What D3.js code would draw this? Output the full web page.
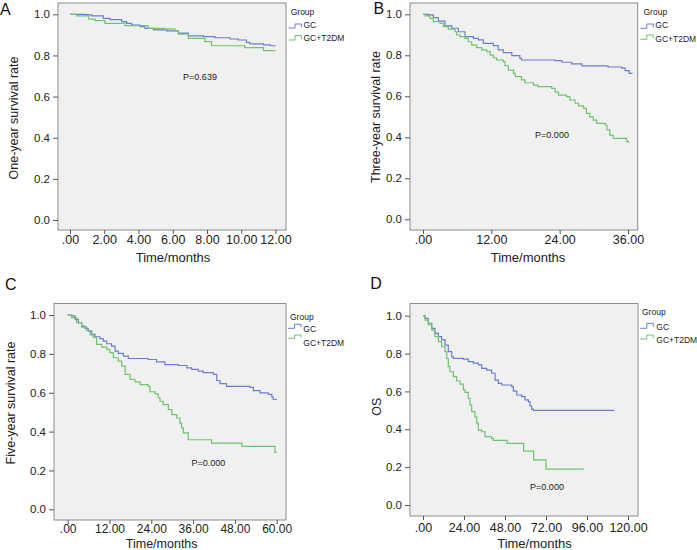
<!DOCTYPE html>
<html><head><meta charset="utf-8">
<script src="https://cdn.jsdelivr.net/npm/d3@7"></script>
<style>body{margin:0;background:#fff} svg{display:block;font-family:"Liberation Sans",Arial,Helvetica,sans-serif}</style>
</head><body><svg id="c" width="697" height="550"></svg>
<script>
// ---------- data ----------
const groups = ["GC", "GC+T2DM"];
const panelLetters = ["A", "B", "C", "D"];
const yTitles = ["One-year survival rate", "Three-year survival rate", "Five-year survival rate", "OS"];
const xTitleText = "Time/months";
const legendTitle = "Group";
const pValues = ["P=0.639", "P=0.000", "P=0.000", "P=0.000"];
const yTicks = [0, 0.2, 0.4, 0.6, 0.8, 1.0];
const xTicksA = [0, 2, 4, 6, 8, 10, 12];
const xTicksB = [0, 12, 24, 36];
const xTicksC = [0, 12, 24, 36, 48, 60];
const xTicksD = [0, 24, 48, 72, 96, 120];

// [time in months, survival rate]
const gcA = [[0,1],[0.97,0.997],[1.27,0.992],[1.95,0.98],[2.34,0.974],[3.02,0.964],[3.31,0.956],[3.6,0.948],[4.09,0.94],[4.38,0.932],[4.87,0.924],[5.65,0.919],[6.33,0.908],[6.91,0.895],[7.79,0.891],[8.47,0.886],[9.34,0.88],[9.83,0.875],[10.3,0.864],[10.5,0.856],[11.3,0.851],[11.7,0.847],[12,0.847]];
const t2dmA = [[0,1],[0.39,0.992],[1.1,0.977],[1.46,0.969],[2.04,0.956],[3.21,0.945],[4.57,0.932],[5.5,0.929],[6.13,0.919],[6.33,0.904],[6.91,0.883],[7.88,0.867],[8.27,0.847],[10.2,0.838],[11.3,0.823],[12,0.823]];

const gcB = [[0,1],[0.94,0.997],[1.82,0.984],[2.69,0.967],[3.86,0.944],[5.03,0.932],[6.2,0.915],[7.37,0.891],[8.84,0.883],[9.72,0.875],[10.6,0.858],[12.35,0.847],[13.2,0.826],[14.1,0.813],[15.6,0.798],[17.0,0.785],[17.3,0.777],[23.2,0.774],[24.4,0.766],[26.1,0.758],[27.9,0.748],[32.5,0.743],[34.9,0.737],[35.5,0.725],[36.2,0.712],[36.8,0.712]];
const t2dmB = [[0,1],[0.35,0.992],[1.23,0.98],[1.82,0.964],[2.99,0.956],[3.57,0.94],[4.45,0.928],[5.62,0.915],[5.91,0.899],[6.5,0.891],[7.37,0.883],[7.96,0.866],[8.55,0.85],[9.43,0.837],[10.3,0.826],[11.2,0.818],[11.8,0.801],[12.35,0.788],[12.9,0.777],[14.1,0.769],[14.4,0.749],[15.0,0.728],[15.9,0.712],[16.2,0.696],[17.3,0.68],[17.9,0.666],[19.4,0.655],[20.2,0.647],[22.6,0.639],[23.2,0.62],[23.8,0.606],[25.2,0.598],[25.8,0.582],[26.7,0.566],[27.3,0.553],[28.2,0.541],[28.7,0.517],[29.3,0.5],[29.9,0.484],[30.5,0.468],[32.0,0.46],[32.3,0.436],[32.8,0.411],[33.4,0.395],[35.8,0.379],[36.1,0.374]];

const gcC = [[0,1],[1.15,0.995],[2.1,0.978],[3.04,0.961],[4.0,0.943],[4.97,0.931],[5.9,0.917],[6.9,0.9],[7.84,0.888],[9.27,0.878],[10.2,0.866],[11.2,0.852],[12.6,0.84],[13.6,0.814],[14.5,0.802],[16.0,0.788],[17.4,0.776],[23.1,0.771],[25.5,0.759],[27.9,0.745],[31.8,0.74],[34.2,0.728],[35.6,0.72],[37.5,0.711],[38.9,0.703],[41.8,0.694],[42.8,0.663],[43.7,0.647],[45.6,0.633],[52.3,0.628],[53.3,0.611],[55.2,0.599],[57.6,0.591],[58.6,0.577],[59.0,0.565],[60,0.565]];
const t2dmC = [[0,1],[1.15,0.986],[2.58,0.961],[4.0,0.938],[5.45,0.921],[6.4,0.897],[7.35,0.883],[8.3,0.849],[9.76,0.835],[11.2,0.823],[12.1,0.806],[13.1,0.78],[14.5,0.763],[15.5,0.737],[16.5,0.694],[17.9,0.668],[19.3,0.656],[20.8,0.642],[23.1,0.633],[23.6,0.605],[25.1,0.594],[26.0,0.574],[26.5,0.556],[27.4,0.539],[28.9,0.513],[29.9,0.487],[31.3,0.47],[32.2,0.444],[32.7,0.419],[33.2,0.393],[34.6,0.358],[41.3,0.341],[50.0,0.324],[59.5,0.293],[60,0.293]];

const gcD = [[0,1],[1.17,0.986],[3.1,0.96],[5.1,0.933],[7.0,0.907],[9.0,0.889],[10.9,0.872],[12.9,0.845],[14.8,0.81],[16.8,0.783],[17.8,0.775],[23.6,0.771],[26.5,0.757],[29.5,0.749],[32.4,0.74],[34.4,0.722],[37.3,0.713],[40.2,0.696],[42.2,0.66],[44.1,0.643],[46.1,0.634],[51.9,0.625],[52.9,0.602],[54.9,0.581],[57.8,0.572],[59.7,0.555],[61.7,0.546],[62.6,0.523],[63.6,0.507],[64.6,0.5],[112,0.5]];
const t2dmD = [[0,1],[1.17,0.977],[3.1,0.951],[5.1,0.924],[7.0,0.889],[9.0,0.863],[10.9,0.836],[12.9,0.81],[13.9,0.775],[14.8,0.731],[15.8,0.704],[17.8,0.678],[19.7,0.655],[21.7,0.639],[23.6,0.608],[24.6,0.595],[26.5,0.564],[27.5,0.528],[28.5,0.493],[30.4,0.466],[31.4,0.432],[32.4,0.396],[34.4,0.387],[36.3,0.361],[40.2,0.352],[41.2,0.341],[49.2,0.326],[58.9,0.285],[64.8,0.238],[72.0,0.19],[94.1,0.19]];

// ---------- layout / style ----------
const colors = {GC: "#6c7dd0", "GC+T2DM": "#6dc56d"};
const panels = [
  {series:[gcA,t2dmA], xTicks:xTicksA, xMax:12, box:[58,3,286,230], xr:[70,275.5], yr:[220,14.3],
   letter:[0,15], xTickY:240, tickFs:12.5, xTitle:[173,257], xTitleFs:13, yTitle:[14,118], p:[200,77],
   leg:{gx:290.7, gy:12.3, ix:288.5, tx:303.5, items:[{lo:28,hi:24,ty:25.5},{lo:40,hi:35.5,ty:38.5}]}},
  {series:[gcB,t2dmB], xTicks:xTicksB, xMax:36, box:[410,3,637.7,230], xr:[423,628], yr:[219.3,14.3],
   letter:[373.5,14.3], xTickY:240, tickFs:12.5, xTitle:[528,257], xTitleFs:13, yTitle:[376,117], p:[552,135],
   leg:{gx:643.5, gy:12.3, ix:640.3, tx:655.3, items:[{lo:28.3,hi:24,ty:25},{lo:39.3,hi:35,ty:39.3}]}},
  {series:[gcC,t2dmC], xTicks:xTicksC, xMax:60, box:[54,303.5,286,520], xr:[67.7,276.7], yr:[509.3,315],
   letter:[5,290], xTickY:529, tickFs:12, xTitle:[161.7,543.5], xTitleFs:12.5, yTitle:[11,403], p:[208.3,462.7],
   leg:{gx:290, gy:316.7, ix:288, tx:303.3, items:[{lo:328.3,hi:324.3,ty:329.3},{lo:338.3,hi:335,ty:342.7}]}},
  {series:[gcD,t2dmD], xTicks:xTicksD, xMax:120, box:[410,303.5,638,516], xr:[423,628], yr:[505,315.7],
   letter:[370.3,289.3], xTickY:527.5, tickFs:12.5, xTitle:[534.5,543], xTitleFs:13, yTitle:[377,406.7], p:[547,487.3],
   leg:{gx:642, gy:312.3, ix:640.3, tx:656.3, items:[{lo:328.3,hi:323.3,ty:326.7},{lo:339,hi:335,ty:340}]}}
];

const svg = d3.select("#c");
const fmtX = v => v === 0 ? ".00" : d3.format(".2f")(v);
const fmtY = d3.format(".1f");

panels.forEach((P, i) => {
  const g = svg.append("g");
  const x = d3.scaleLinear().domain([0, P.xMax]).range(P.xr);
  const y = d3.scaleLinear().domain([0, 1]).range(P.yr);
  const [bx0, by0, bx1, by1] = P.box;

  g.append("rect").attr("x", bx0).attr("y", by0).attr("width", bx1 - bx0).attr("height", by1 - by0)
    .attr("fill", "#f0f0f0").attr("stroke", "#8c8c8c").attr("stroke-width", 1);

  const yAxis = g.append("g").attr("transform", `translate(${bx0},0)`)
    .call(d3.axisLeft(y).tickValues(yTicks).tickFormat(fmtY).tickSize(5).tickPadding(3));
  yAxis.select(".domain").remove();
  yAxis.selectAll("line").attr("stroke", "#555");
  yAxis.selectAll("text").attr("font-size", 11.5).attr("fill", "#222").attr("font-family", null);

  const xAxis = g.append("g").attr("transform", `translate(0,${by1})`)
    .call(d3.axisBottom(x).tickValues(P.xTicks).tickFormat(fmtX).tickSize(4).tickPadding(3));
  xAxis.select(".domain").remove();
  xAxis.selectAll("line").attr("stroke", "#555");
  xAxis.selectAll("text").attr("font-size", P.tickFs).attr("fill", "#222").attr("font-family", null)
    .attr("y", P.xTickY - by1).attr("dy", "0.35em");

  const line = d3.line().x(d => x(d[0])).y(d => y(d[1])).curve(d3.curveStepAfter);
  P.series.forEach((s, k) => {
    g.append("path").datum(s).attr("d", line).attr("fill", "none")
      .attr("stroke", colors[groups[k]]).attr("stroke-width", 1.2);
  });

  g.append("text").attr("x", P.xTitle[0]).attr("y", P.xTitle[1]).attr("dy", "0.35em")
    .attr("text-anchor", "middle").attr("font-size", P.xTitleFs).attr("fill", "#222").text(xTitleText);
  g.append("text").attr("transform", `translate(${P.yTitle[0]},${P.yTitle[1]}) rotate(-90)`).attr("dy", "0.35em")
    .attr("text-anchor", "middle").attr("font-size", 12.5).attr("fill", "#222").text(yTitles[i]);
  g.append("text").attr("x", P.letter[0]).attr("y", P.letter[1])
    .attr("font-size", 16).attr("fill", "#111").text(panelLetters[i]);
  g.append("text").attr("x", P.p[0]).attr("y", P.p[1]).attr("dy", "0.35em")
    .attr("text-anchor", "middle").attr("font-size", 9).attr("fill", "#222").text(pValues[i]);

  const L = P.leg;
  g.append("text").attr("x", L.gx).attr("y", L.gy).attr("dy", "0.35em")
    .attr("font-size", 8.5).attr("fill", "#222").text(legendTitle);
  groups.forEach((name, k) => {
    const it = L.items[k];
    g.append("path")
      .attr("d", `M${L.ix},${it.lo}H${L.ix + 6.5}V${it.hi}H${L.ix + 13}V${(it.hi + it.lo) / 2 + 1}`)
      .attr("fill", "none").attr("stroke", colors[name]).attr("stroke-width", 1);
    g.append("text").attr("x", L.tx).attr("y", it.ty).attr("dy", "0.35em")
      .attr("font-size", 8.5).attr("fill", "#222").text(name);
  });
});
</script></body></html>
